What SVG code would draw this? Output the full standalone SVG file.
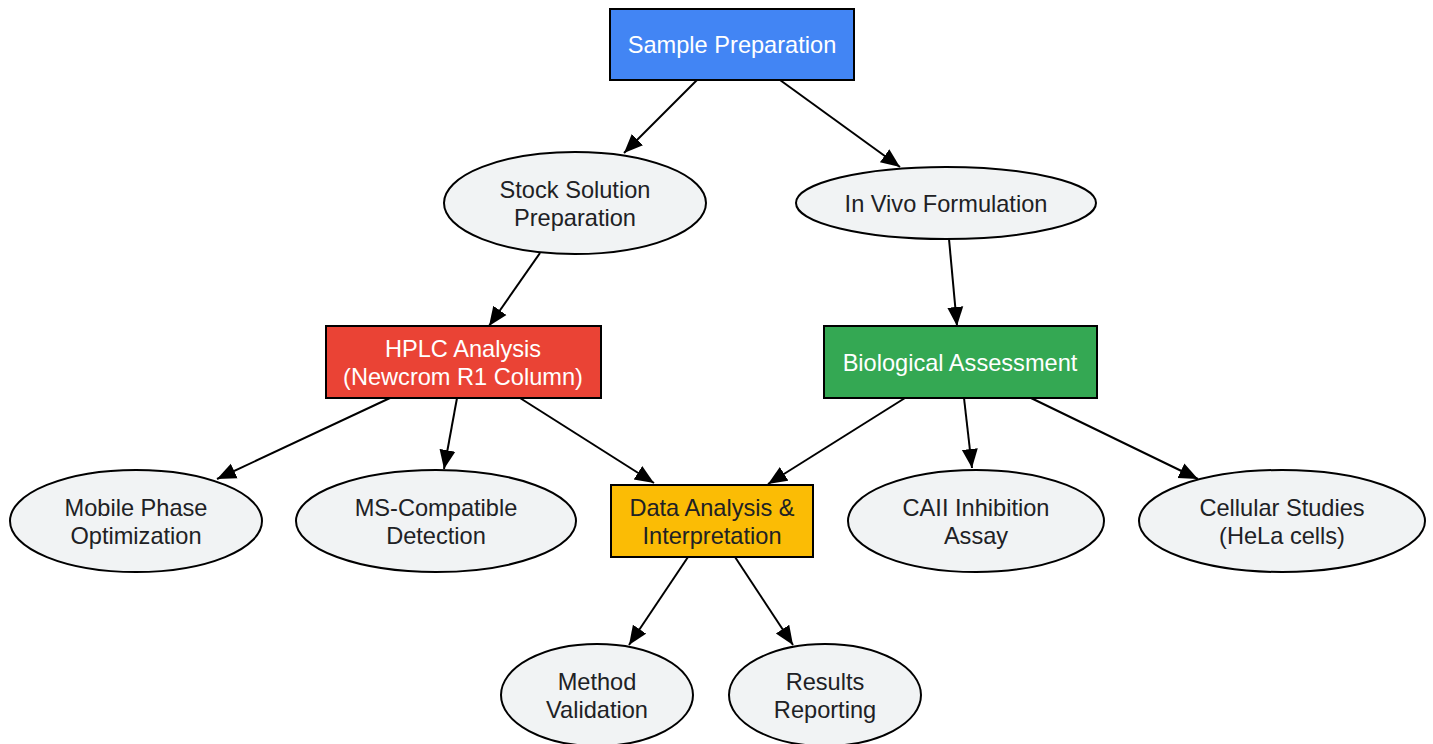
<svg xmlns="http://www.w3.org/2000/svg" width="1433" height="744" viewBox="0 0 1433 744">
<style>
text{font-family:"Liberation Sans",Arial,sans-serif;font-size:23.6px;text-anchor:middle}
.box{stroke:#000;stroke-width:2}
.ell{fill:#F1F3F4;stroke:#000;stroke-width:2}
.w{fill:#fff}
.d{fill:#202124}
.e{stroke:#000;stroke-width:2;fill:none;marker-end:url(#ah)}
</style>
<defs>
<marker id="ah" markerUnits="userSpaceOnUse" markerWidth="22" markerHeight="18" refX="19" refY="8.5" orient="auto">
<path d="M0,0.5 L19,8.5 L0,16.5 z" fill="#000"/>
</marker>
</defs>
<rect width="1433" height="744" fill="#fff"/>
<g id="connectors">
<line class="e" x1="697" y1="80" x2="624" y2="153"/>
<line class="e" x1="780" y1="80" x2="900" y2="167"/>
<line class="e" x1="540" y1="253" x2="489" y2="326"/>
<line class="e" x1="949" y1="239" x2="957" y2="326"/>
<line class="e" x1="390" y1="398" x2="217" y2="479"/>
<line class="e" x1="457" y1="398" x2="444" y2="469"/>
<line class="e" x1="520" y1="398" x2="654" y2="483"/>
<line class="e" x1="905" y1="398" x2="768" y2="484"/>
<line class="e" x1="964" y1="398" x2="972" y2="468"/>
<line class="e" x1="1031" y1="398" x2="1198" y2="479"/>
<line class="e" x1="688" y1="557" x2="629" y2="645"/>
<line class="e" x1="735" y1="557" x2="793" y2="645"/>
</g>
<g id="sample_prep">
<rect class="box" x="610" y="9" width="244" height="71" fill="#4285F4"/>
<text class="w" x="732" y="53">Sample Preparation</text>
</g>
<g id="stock_solution">
<ellipse class="ell" cx="575" cy="203" rx="131" ry="51"/>
<text class="d" x="575" y="198">Stock Solution</text>
<text class="d" x="575" y="226">Preparation</text>
</g>
<g id="in_vivo">
<ellipse class="ell" cx="946" cy="203" rx="150" ry="36"/>
<text class="d" x="946" y="212">In Vivo Formulation</text>
</g>
<g id="hplc">
<rect class="box" x="326" y="326" width="275" height="72" fill="#EA4335"/>
<text class="w" x="463" y="357">HPLC Analysis</text>
<text class="w" x="463" y="385">(Newcrom R1 Column)</text>
</g>
<g id="bio">
<rect class="box" x="824" y="326" width="273" height="72" fill="#34A853"/>
<text class="w" x="960" y="371">Biological Assessment</text>
</g>
<g id="mobile_phase">
<ellipse class="ell" cx="136" cy="521" rx="126" ry="51"/>
<text class="d" x="136" y="516">Mobile Phase</text>
<text class="d" x="136" y="544">Optimization</text>
</g>
<g id="ms_detection">
<ellipse class="ell" cx="436" cy="521" rx="140" ry="51"/>
<text class="d" x="436" y="516">MS-Compatible</text>
<text class="d" x="436" y="544">Detection</text>
</g>
<g id="data_analysis">
<rect class="box" x="611" y="485" width="202" height="72" fill="#FBBC05"/>
<text class="d" x="712" y="516">Data Analysis &amp;</text>
<text class="d" x="712" y="544">Interpretation</text>
</g>
<g id="caii">
<ellipse class="ell" cx="976" cy="521" rx="128" ry="51"/>
<text class="d" x="976" y="516">CAII Inhibition</text>
<text class="d" x="976" y="544">Assay</text>
</g>
<g id="cellular">
<ellipse class="ell" cx="1282" cy="521" rx="143" ry="51"/>
<text class="d" x="1282" y="516">Cellular Studies</text>
<text class="d" x="1282" y="544">(HeLa cells)</text>
</g>
<g id="method_validation">
<ellipse class="ell" cx="597" cy="695" rx="96" ry="51"/>
<text class="d" x="597" y="690">Method</text>
<text class="d" x="597" y="718">Validation</text>
</g>
<g id="results_reporting">
<ellipse class="ell" cx="825" cy="695" rx="96" ry="51"/>
<text class="d" x="825" y="690">Results</text>
<text class="d" x="825" y="718">Reporting</text>
</g>
</svg>
